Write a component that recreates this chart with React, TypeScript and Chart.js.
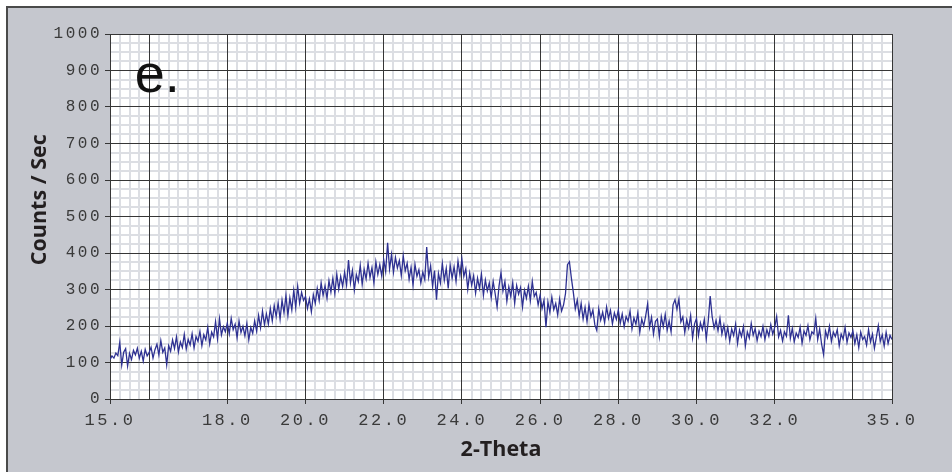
import { useEffect, useRef } from 'react';
import { Chart, registerables } from 'chart.js';

Chart.register(...registerables);

// 2-Theta sampling of the scan
const START = 15;
const STEP = 0.05;

// Counts / Sec, one row per degree (20 samples each)
const counts: number[] = [
  108, 118, 112, 126, 119, 155, 93, 128, 138, 90, 125, 108, 133, 121, 139, 112, 131, 104, 136, 118,
  127, 142, 112, 135, 150, 121, 160, 128, 140, 94, 146, 131, 162, 138, 170, 129, 156, 141, 177, 137,
  163, 148, 179, 140, 171, 158, 185, 146, 176, 162, 196, 151, 183, 170, 212, 165, 220, 176, 198, 184,
  208, 179, 221, 190, 205, 168, 214, 182, 199, 173, 207, 162, 196, 180, 214, 186, 229, 195, 241, 204,
  233, 205, 248, 214, 256, 226, 263, 219, 271, 236, 284, 229, 277, 244, 298, 251, 309, 262, 292, 270,
  281, 248, 274, 239, 286, 262, 303, 270, 318, 284, 310, 276, 324, 293, 331, 289, 342, 301, 336, 308,
  347, 312, 381, 318, 352, 299, 341, 322, 366, 314, 355, 329, 372, 333, 360, 318, 376, 341, 368, 337,
  382, 349, 428, 356, 396, 347, 388, 359, 379, 338, 392, 351, 372, 328, 361, 312, 369, 336, 354, 318,
  348, 327, 416, 334, 365, 309, 352, 272, 344, 318, 371, 325, 358, 303, 367, 331, 362, 322, 378, 340,
  384, 336, 357, 301, 345, 312, 338, 290, 331, 303, 342, 284, 326, 296, 318, 278, 322, 289, 252, 310,
  346, 296, 322, 268, 307, 281, 319, 262, 311, 287, 305, 252, 298, 276, 309, 270, 322, 281, 292, 258,
  284, 248, 271, 197, 266, 238, 279, 245, 262, 230, 274, 241, 258, 289, 368, 376, 331, 292, 247, 271,
  228, 262, 219, 251, 212, 258, 226, 244, 203, 188, 247, 216, 238, 209, 252, 221, 243, 206, 236, 218,
  244, 207, 233, 198, 226, 213, 241, 192, 222, 205, 236, 183, 219, 200, 228, 261, 196, 224, 178, 213,
  219, 171, 226, 198, 232, 189, 214, 184, 258, 272, 246, 274, 211, 225, 182, 217, 194, 229, 168, 206,
  221, 174, 209, 190, 218, 165, 213, 282, 226, 194, 215, 187, 221, 178, 203, 169, 196, 158, 192, 174,
  205, 152, 189, 171, 198, 146, 184, 167, 207, 175, 193, 160, 186, 171, 199, 163, 190, 172, 204, 178,
  196, 226, 170, 188, 159, 184, 172, 229, 166, 193, 157, 181, 169, 197, 153, 186, 174, 201, 162, 184,
  178, 221, 163, 192, 150, 122, 186, 168, 199, 158, 183, 171, 190, 146, 178, 164, 196, 155, 181, 169,
  187, 152, 176, 141, 183, 163, 171, 148, 190, 157, 178, 139, 169, 201, 158, 176, 145, 183, 152, 174,
  163,
];

const X_MIN = 15;
const X_MAX = 35;
const Y_MIN = 0;
const Y_MAX = 1000;
const X_LABELS = [15, 18, 20, 22, 24, 26, 28, 30, 32, 35];
const X_MAJOR = [15, 16, 18, 20, 22, 24, 26, 28, 30, 32, 34, 35];
const X_MINOR_STEP = 0.25;
const Y_MAJOR_STEP = 100;
const Y_MINOR_STEP = 25;
const PANEL_LABEL = 'e.';
const X_TITLE = '2-Theta';
const Y_TITLE = 'Counts / Sec';

const AXIS_DARK = '#363636';
const TICK_TEXT = '#3a3a3a';
const MINOR_GRID = '#dcdee3';
const LINE_COLOR = '#2e3192';

const decor = {
  id: 'decor',
  beforeDraw(chart: any) {
    const { ctx, chartArea } = chart;
    ctx.save();
    ctx.fillStyle = '#ffffff';
    ctx.fillRect(chartArea.left, chartArea.top, chartArea.right - chartArea.left, chartArea.bottom - chartArea.top);
    ctx.restore();
    ctx.letterSpacing = '0px';
  },
  beforeDatasetsDraw(chart: any) {
    const { ctx, scales } = chart;
    ctx.save();
    ctx.fillStyle = '#111111';
    ctx.font = '54px "Liberation Sans", Arial, sans-serif';
    ctx.textAlign = 'left';
    ctx.textBaseline = 'alphabetic';
    ctx.fillText(PANEL_LABEL, scales.x.getPixelForValue(15.63), scales.y.getPixelForValue(840));
    ctx.restore();
  },
  afterDatasetsDraw(chart: any) {
    chart.ctx.letterSpacing = '2.5px';
  },
  afterDraw(chart: any) {
    chart.ctx.letterSpacing = '0px';
  },
};

export default function App() {
  const ref = useRef<HTMLCanvasElement>(null);
  useEffect(() => {
    const data = counts.map((c, i) => ({ x: +(START + i * STEP).toFixed(2), y: c }));
    const chart = new Chart(ref.current as HTMLCanvasElement, {
      type: 'line',
      data: {
        datasets: [
          {
            data,
            borderColor: LINE_COLOR,
            borderWidth: 1.3,
            pointRadius: 0,
            tension: 0,
            fill: false,
            xAxisID: 'x',
            yAxisID: 'y',
          },
        ],
      },
      options: {
        animation: false,
        responsive: false,
        events: [],
        layout: { padding: { top: 26, right: 60, bottom: 0, left: 0 } },
        plugins: { legend: { display: false }, tooltip: { enabled: false } },
        scales: {
          xMinor: {
            type: 'linear',
            position: 'bottom',
            min: X_MIN,
            max: X_MAX,
            ticks: { display: false },
            grid: { color: MINOR_GRID, lineWidth: 2, drawTicks: false, z: -2 },
            border: { display: false },
            afterBuildTicks: (s: any) => {
              const t: any[] = [];
              const n = Math.round((X_MAX - X_MIN) / X_MINOR_STEP);
              for (let i = 0; i <= n; i++) {
                const v = X_MIN + i * X_MINOR_STEP;
                if (!X_MAJOR.includes(v)) t.push({ value: v });
              }
              s.ticks = t;
            },
            afterFit: (s: any) => {
              s.height = 0;
            },
          },
          yMinor: {
            type: 'linear',
            position: 'left',
            min: Y_MIN,
            max: Y_MAX,
            ticks: { display: false },
            grid: { color: MINOR_GRID, lineWidth: 2, drawTicks: false, z: -2 },
            border: { display: false },
            afterBuildTicks: (s: any) => {
              const t: any[] = [];
              for (let v = Y_MIN; v <= Y_MAX; v += Y_MINOR_STEP) {
                if (v % Y_MAJOR_STEP !== 0) t.push({ value: v });
              }
              s.ticks = t;
            },
            afterFit: (s: any) => {
              s.width = 0;
            },
          },
          x: {
            type: 'linear',
            position: 'bottom',
            min: X_MIN,
            max: X_MAX,
            afterBuildTicks: (s: any) => {
              s.ticks = X_MAJOR.map((v) => ({ value: v }));
            },
            afterFit: (s: any) => {
              s.height = 73;
            },
            ticks: {
              autoSkip: false,
              maxRotation: 0,
              minRotation: 0,
              padding: 6,
              z: 1,
              color: TICK_TEXT,
              font: { family: '"Liberation Mono", monospace', size: 17 },
              callback: (v: any) => (X_LABELS.includes(Number(v)) ? Number(v).toFixed(1) : ''),
            },
            grid: {
              color: AXIS_DARK,
              lineWidth: 1,
              tickLength: 5,
              tickColor: (ctx: any) => (X_LABELS.includes(ctx.tick?.value) ? AXIS_DARK : 'rgba(0,0,0,0)'),
              z: -1,
            },
            border: { display: true, color: AXIS_DARK, width: 1 },
            title: {
              display: true,
              text: X_TITLE,
              color: '#231f20',
              font: { family: '"Open Sans", sans-serif', size: 21.5, weight: 'bold' },
              padding: { top: 0, bottom: 9 },
            },
          },
          y: {
            type: 'linear',
            position: 'left',
            min: Y_MIN,
            max: Y_MAX,
            afterFit: (s: any) => {
              s.width = 102;
            },
            ticks: {
              stepSize: Y_MAJOR_STEP,
              padding: 3,
              z: 1,
              color: TICK_TEXT,
              font: { family: '"Liberation Mono", monospace', size: 16 },
              callback: (v: any) => String(v),
            },
            grid: { color: AXIS_DARK, lineWidth: 1, tickLength: 5, tickColor: AXIS_DARK, z: -1 },
            border: { display: true, color: AXIS_DARK, width: 1 },
            title: {
              display: true,
              text: '      ' + Y_TITLE,
              color: '#231f20',
              font: { family: '"Open Sans", sans-serif', size: 21.5, weight: 'bold' },
              padding: { top: 19, bottom: 0 },
            },
          },
        },
      } as any,
      plugins: [decor],
    });
    return () => chart.destroy();
  }, []);

  return (
    <div
      style={{
        position: 'absolute',
        left: 6,
        top: 6,
        width: 944,
        height: 464,
        background: '#c5c7ce',
        borderLeft: '2px solid #4a4a4a',
        borderTop: '2px solid #4a4a4a',
      }}
    >
      <canvas ref={ref} width={944} height={464} style={{ display: 'block', width: 944, height: 464 }} />
    </div>
  );
}
